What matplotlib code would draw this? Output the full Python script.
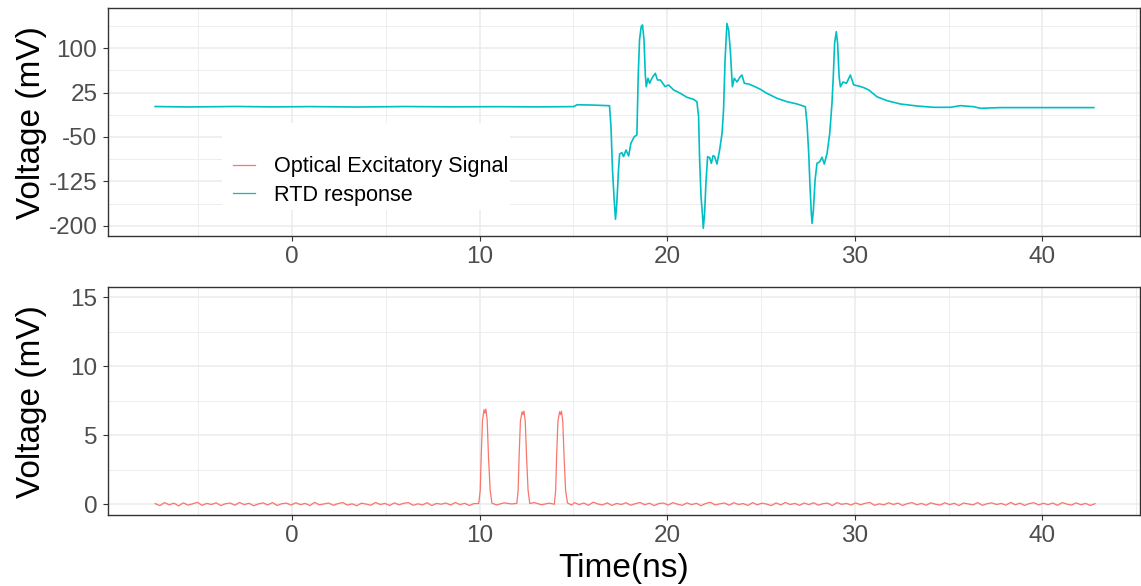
import matplotlib
matplotlib.use("Agg")
import matplotlib.pyplot as plt
from matplotlib.patches import Rectangle
from matplotlib.lines import Line2D

plt.rcParams["font.family"] = ["Liberation Sans", "DejaVu Sans"]
plt.rcParams["axes.unicode_minus"] = False

# RTD response (mV) vs time (ns)
rtd_time = [-7.3, -5.5, -3.0, -1.0, 1.0, 3.5, 6.0, 8.5, 11.0, 13.0, 15.0, 15.2, 16.0, 16.92,
            17.0, 17.08, 17.17, 17.24, 17.31, 17.4, 17.46, 17.58, 17.67, 17.8,
            17.94, 18.06, 18.24, 18.38, 18.45, 18.52, 18.61, 18.68, 18.76, 18.83,
            18.88, 18.97, 19.06, 19.18, 19.36, 19.48, 19.63, 19.89, 20.07, 20.34,
            20.69, 21.05, 21.4, 21.58,
            21.67, 21.72, 21.8, 21.87, 21.92, 21.99, 22.06, 22.15, 22.26, 22.35,
            22.44, 22.52, 22.65, 22.79, 22.92, 23.0, 23.08, 23.18, 23.27, 23.36,
            23.47, 23.57, 23.72, 23.89, 23.98, 24.11, 24.34, 24.6, 24.96, 25.3,
            25.85, 26.38, 26.92, 27.36,
            27.45, 27.54, 27.61, 27.68, 27.72, 27.79, 27.88, 27.98, 28.12, 28.25,
            28.37, 28.52, 28.66, 28.78, 28.85, 28.92, 29.01, 29.08, 29.16, 29.23,
            29.37, 29.55, 29.76, 29.94, 30.2, 30.47, 30.74, 31.18, 31.72, 32.43,
            33.32, 34.2, 35.09, 35.63, 36.34, 36.69, 37.76, 39.5, 41.3, 42.74]
rtd_mv = [1.5, 0.8, 1.6, 0.9, 1.4, 0.7, 1.5, 1.0, 1.3, 0.9, 1.4, 4.5, 4.0, 2.9,
          -32.6, -105.8, -156.6, -189, -162, -105.8, -78.8, -76.5, -83, -72,
          -82, -60.7, -49.5, -46.6, 52, 114, 136.5, 139.4, 114, 54.8,
          35, 49.3, 40.8, 49.3, 57.7, 46.4, 46.4, 35, 38, 29.5,
          24, 17.1, 13.7, 9.7,
          -15.7, -83.3, -151, -179, -204.4, -179, -128.3, -83.3, -85, -94.5,
          -81.6, -83, -95.7, -72, -43.8, -4.3, 80.2, 142, 131, 97,
          35, 49.3, 43, 52, 54.8, 40.8, 39.5, 36.2, 30.7, 24,
          15.4, 9.7, 5.8, 1.2,
          -26.8, -77.6, -134, -179, -196, -173.5, -122.7, -94.5, -92, -84.3,
          -95.7, -77.6, -43.8, 7, 52, 108.5, 128, 108.5, 52, 35,
          43, 40.8, 54.8, 38, 36.2, 33.5, 29.5, 18, 11.4, 5.8,
          2.4, 0.2, 0.2, 3, 1.2, -1.5, -0.3, -0.3, -0.3, -0.3]

# Optical excitatory signal (mV) vs time (ns)
opt_time = [-7.3, -7.05, -6.8, -6.55, -6.3, -6.05, -5.8, -5.55, -5.3, -5.05,
            -4.8, -4.55, -4.3, -4.05, -3.8, -3.55, -3.3, -3.05, -2.8, -2.55,
            -2.3, -2.05, -1.8, -1.55, -1.3, -1.05, -0.8, -0.55, -0.3, -0.05,
            0.2, 0.45, 0.7, 0.95, 1.2, 1.45, 1.7, 1.95, 2.2, 2.45,
            2.7, 2.95, 3.2, 3.45, 3.7, 3.95, 4.2, 4.45, 4.7, 4.95,
            5.2, 5.45, 5.7, 5.95, 6.2, 6.45, 6.7, 6.95, 7.2, 7.45,
            7.7, 7.95, 8.2, 8.45, 8.7, 8.95, 9.2, 9.45, 9.7,
            9.95, 10.03, 10.08, 10.15, 10.23, 10.28, 10.33, 10.40, 10.47, 10.56, 10.65,
            10.9, 11.3, 11.7, 11.98,
            12.05, 12.10, 12.17, 12.26, 12.31, 12.36, 12.43, 12.50, 12.58, 12.67,
            12.9, 13.3, 13.7, 13.98,
            14.05, 14.10, 14.17, 14.26, 14.31, 14.36, 14.43, 14.50, 14.58, 14.68,
            14.9,
            15.05, 15.3, 15.55, 15.8, 16.05, 16.3, 16.55, 16.8, 17.05, 17.3,
            17.55, 17.8, 18.05, 18.3, 18.55, 18.8, 19.05, 19.3, 19.55, 19.8,
            20.05, 20.3, 20.55, 20.8, 21.05, 21.3, 21.55, 21.8, 22.05, 22.3,
            22.55, 22.8, 23.05, 23.3, 23.55, 23.8, 24.05, 24.3, 24.55, 24.8,
            25.05, 25.3, 25.55, 25.8, 26.05, 26.3, 26.55, 26.8, 27.05, 27.3,
            27.55, 27.8, 28.05, 28.3, 28.55, 28.8, 29.05, 29.3, 29.55, 29.8,
            30.05, 30.3, 30.55, 30.8, 31.05, 31.3, 31.55, 31.8, 32.05, 32.3,
            32.55, 32.8, 33.05, 33.3, 33.55, 33.8, 34.05, 34.3, 34.55, 34.8,
            35.05, 35.3, 35.55, 35.8, 36.05, 36.3, 36.55, 36.8, 37.05, 37.3,
            37.55, 37.8, 38.05, 38.3, 38.55, 38.8, 39.05, 39.3, 39.55, 39.8,
            40.05, 40.3, 40.55, 40.8, 41.05, 41.3, 41.55, 41.8, 42.05, 42.3,
            42.55, 42.8]
opt_mv = [0.05, -0.10, 0.12, -0.04, 0.08, -0.12, 0.10, -0.06, 0.03, 0.14,
          -0.08, 0.06, -0.02, 0.11, -0.10, 0.04, 0.09, -0.07, 0.13, -0.03,
          0.07, -0.11, 0.02, 0.10, -0.05, 0.12, -0.09, 0.04, 0.08, -0.06,
          0.11, -0.03, 0.06, -0.10, 0.14, -0.04, 0.02, 0.09, -0.08, 0.05,
          0.12, -0.06, 0.03, -0.11, 0.08, 0.01, -0.07, 0.13, -0.02, 0.06,
          -0.09, 0.10, -0.04, 0.07, 0.12, -0.08, 0.03, -0.05, 0.11, -0.10,
          0.06, 0.00, 0.09, -0.06, 0.13, -0.03, 0.07, -0.09, 0.05,
          0.05, 1.0, 3.4, 6.1, 6.85, 6.6, 6.9, 6.1, 3.4, 1.0, 0.08,
          -0.05, 0.10, 0.02, 0.06,
          1.0, 3.4, 6.0, 6.7, 6.5, 6.75, 6.0, 3.4, 1.0, 0.05,
          0.12, -0.04, 0.08, 0.00,
          1.0, 3.4, 6.0, 6.7, 6.5, 6.75, 6.0, 3.4, 1.0, 0.10,
          -0.06,
          0.12, -0.03, 0.09, -0.08, 0.15, 0.02, -0.05, 0.10, -0.09, 0.06,
          -0.02, 0.11, -0.07, 0.04, 0.13, -0.04, 0.08, -0.10, 0.05, 0.09,
          -0.06, 0.12, 0.00, -0.08, 0.10, -0.03, 0.07, -0.11, 0.06, 0.14,
          -0.05, 0.03, 0.09, -0.07, 0.11, -0.02, 0.05, -0.09, 0.12, -0.04,
          0.08, 0.01, -0.10, 0.10, -0.05, 0.13, -0.02, 0.06, -0.08, 0.09,
          -0.03, 0.11, -0.07, 0.04, 0.08, -0.10, 0.12, -0.01, 0.06, -0.06,
          0.10, -0.04, 0.07, 0.13, -0.08, 0.03, -0.05, 0.11, -0.02, 0.08,
          -0.09, 0.05, 0.12, -0.04, 0.06, -0.07, 0.10, 0.00, -0.06, 0.11,
          -0.03, 0.07, -0.10, 0.09, 0.02, -0.05, 0.12, -0.08, 0.04, 0.10,
          -0.02, 0.06, -0.07, 0.13, -0.04, 0.08, -0.09, 0.05, 0.11, -0.05,
          0.07, -0.03, 0.09, -0.08, 0.12, 0.01, -0.06, 0.10, -0.04, 0.06,
          -0.09, 0.04]

series_names = ["Optical Excitatory Signal", "RTD response"]
series_colors = ["#F8766D", "#00BFC4"]

top_yticks = [-200, -125, -50, 25, 100]
top_yminor = [-162.5, -87.5, -12.5, 62.5, 137.5]
bot_yticks = [0, 5, 10, 15]
bot_yminor = [2.5, 7.5, 12.5]
xticks = [0, 10, 20, 30, 40]
xminor = [-5, 5, 15, 25, 35, 45]

W, H = 1141, 586
fig = plt.figure(figsize=(W / 100, H / 100), dpi=100)

def px_axes(x0, y0, x1, y1):
    return fig.add_axes([x0 / W, 1 - y1 / H, (x1 - x0) / W, (y1 - y0) / H])

ax1 = px_axes(107.5, 8.3, 1140, 236)
ax2 = px_axes(107.5, 287.3, 1140, 515)

for ax, yt, ym in [(ax1, top_yticks, top_yminor), (ax2, bot_yticks, bot_yminor)]:
    ax.set_axisbelow(True)
    ax.set_xticks(xticks)
    ax.set_xticks(xminor, minor=True)
    ax.set_yticks(yt)
    ax.set_yticks(ym, minor=True)
    ax.grid(which="major", color="#EBEBEB", linewidth=1.1)
    ax.grid(which="minor", color="#EBEBEB", linewidth=0.6)
    ax.tick_params(which="major", length=3.3, width=0.8, color="#333333",
                   labelsize=17.5, labelcolor="#4D4D4D", pad=4)
    ax.tick_params(which="minor", length=0)
    for s in ax.spines.values():
        s.set_color("#333333")
        s.set_linewidth(1.0)
    ax.set_xlim(-9.84, 45.2)
    ax.set_ylabel("Voltage (mV)", fontsize=24, color="black")
    ax.yaxis.set_label_coords(-0.059, 0.5)

ax1.plot(rtd_time, rtd_mv, color=series_colors[1], linewidth=1.2)
ax1.set_ylim(-217.4, 167.6)

ax2.plot(opt_time, opt_mv, color=series_colors[0], linewidth=0.9)
ax2.set_ylim(-0.78, 15.72)
ax2.set_xlabel("Time(ns)", fontsize=24, color="black", labelpad=4)

# legend box (white, no border) inside the top panel
ax1.add_patch(Rectangle((0.111, 0.114), 0.279, 0.382, transform=ax1.transAxes,
                        facecolor="white", edgecolor="none", zorder=1))
handles = [Line2D([], [], color=c, linewidth=0.9) for c in series_colors]
ax1.legend(handles, series_names, loc="center left", bbox_to_anchor=(0.1215, 0.2415),
           frameon=False, fontsize=15.6, handlelength=1.0, handletextpad=0.9,
           labelspacing=0.35, borderpad=0, borderaxespad=0)

fig.savefig("out.png", dpi=100)
